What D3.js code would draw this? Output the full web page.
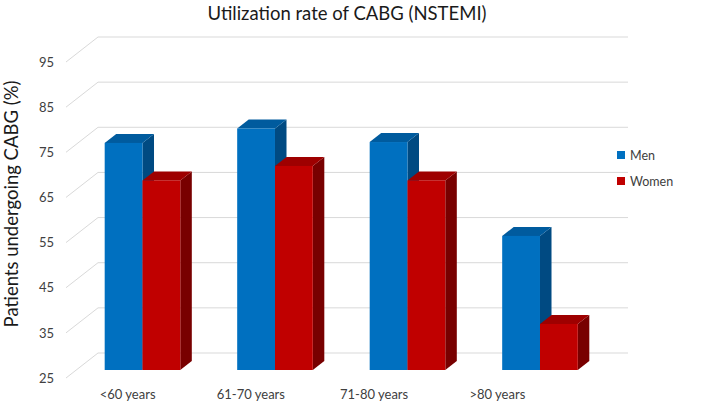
<!DOCTYPE html>
<html>
<head>
<meta charset="utf-8">
<script src="https://cdn.jsdelivr.net/npm/d3@7"></script>
<style>
  html, body { margin: 0; padding: 0; background: #fff; }
  svg { display: block; font-family: Lato, "Open Sans", sans-serif; }
</style>
</head>
<body>
<svg id="chart" width="704" height="408"></svg>
<script>
// ---- data ----
const categories = ["<60 years", "61-70 years", "71-80 years", ">80 years"];
const series = ["Men", "Women"];
const menValues = [75.3, 78.5, 75.5, 54.7];
const womenValues = [67.0, 70.2, 67.0, 35.2];
const yTicks = [25, 35, 45, 55, 65, 75, 85, 95];
const title = "Utilization rate of CABG (NSTEMI)";
const yTitle = "Patients undergoing CABG (%)";

const values = { Men: menValues, Women: womenValues };
const colors = {
  Men:   { front: "#0070c0", top: "#005b9e", side: "#004a82" },
  Women: { front: "#c00000", top: "#9e0000", side: "#780000" }
};

const svg = d3.select("#chart");

// ---- geometry ----
const front = { left: 66, right: 596 };
const depth = { dx: 32, dy: -25 };       // full floor depth vector
const barDepthStart = 0.32, barDepthLen = 0.36;

const x = d3.scaleBand().domain(categories).range([front.left, front.right]);
const x1 = d3.scaleBand().domain(series).range([x.bandwidth() * 0.2147, x.bandwidth() * 0.7853]);
const y = d3.scaleLinear().domain([25, 95]).range([378, 62]);
const xLabel = d3.scaleBand().domain(categories).range([66, 559]);

// ---- gridlines (back wall + side wall) ----
const grid = svg.append("g").attr("stroke", "#d9d9d9").attr("stroke-width", 1).attr("fill", "none");
yTicks.forEach(t => {
  grid.append("line")
    .attr("x1", front.left).attr("y1", y(t))
    .attr("x2", front.left + depth.dx).attr("y2", y(t) + depth.dy);
  grid.append("line")
    .attr("x1", front.left + depth.dx).attr("y1", y(t) + depth.dy)
    .attr("x2", front.right + depth.dx).attr("y2", y(t) + depth.dy);
});

// ---- y axis labels ----
const yAxis = d3.axisLeft(y).tickValues(yTicks).tickSize(0).tickPadding(12);
const ya = svg.append("g").attr("transform", `translate(${front.left},0)`).call(yAxis);
ya.select(".domain").remove();
ya.selectAll("text").attr("font-size", 13).attr("fill", "#404040").attr("font-family", "Lato, sans-serif");

// ---- bars ----
const ox = depth.dx * barDepthStart, oy = depth.dy * barDepthStart;
const bx = depth.dx * barDepthLen, by = depth.dy * barDepthLen;
const bars = svg.append("g");
categories.forEach((c, i) => {
  series.forEach(s => {
    const v = values[s][i];
    const x0 = x(c) + x1(s) + ox;
    const x2 = x0 + x1.bandwidth();
    const yt = y(v) + oy;
    const yb = y(25) + oy;
    const g = bars.append("g");
    // side face
    g.append("path").attr("fill", colors[s].side)
      .attr("d", `M${x2},${yt}L${x2 + bx},${yt + by}L${x2 + bx},${yb + by}L${x2},${yb}Z`);
    // top face
    g.append("path").attr("fill", colors[s].top)
      .attr("d", `M${x0},${yt}L${x0 + bx},${yt + by}L${x2 + bx},${yt + by}L${x2},${yt}Z`);
    // front face
    g.append("rect").attr("fill", colors[s].front)
      .attr("x", x0).attr("y", yt).attr("width", x1.bandwidth()).attr("height", yb - yt);
  });
});

// ---- category labels ----
svg.append("g").selectAll("text").data(categories).join("text")
  .attr("x", d => xLabel(d) + xLabel.bandwidth() / 2)
  .attr("y", 399)
  .attr("text-anchor", "middle")
  .attr("font-size", 13).attr("fill", "#404040")
  .text(d => d);

// ---- title ----
svg.append("text").attr("x", 347).attr("y", 20).attr("text-anchor", "middle")
  .attr("font-size", 18.5).attr("fill", "#1a1a1a").text(title);

// ---- y title ----
svg.append("text").attr("transform", "translate(18,204) rotate(-90)")
  .attr("text-anchor", "middle").attr("font-size", 18.5).attr("fill", "#1a1a1a").text(yTitle);

// ---- legend ----
const leg = svg.append("g").attr("transform", "translate(617,151)");
series.forEach((s, i) => {
  leg.append("rect").attr("x", 0).attr("y", i * 26).attr("width", 8).attr("height", 8).attr("fill", colors[s].front);
  leg.append("text").attr("x", 13).attr("y", i * 26 + 8.5).attr("font-size", 12.5).attr("fill", "#404040").text(s);
});
</script>
</body>
</html>
